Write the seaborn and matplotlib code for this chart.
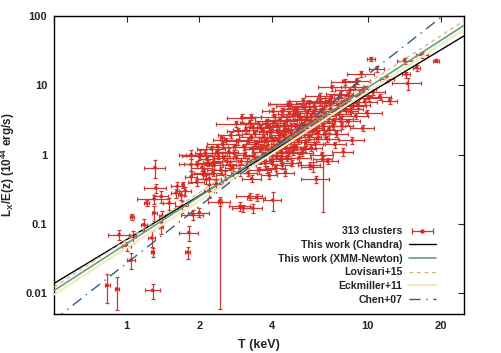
import numpy as np
import pandas as pd
import matplotlib
matplotlib.use("Agg")
import matplotlib.pyplot as plt
import seaborn as sns
from matplotlib.lines import Line2D
from matplotlib.legend_handler import HandlerLine2D
from matplotlib.ticker import FixedLocator, FixedFormatter, NullLocator

# cluster temperatures (keV), luminosities (1e44 erg/s), T error (keV), fractional L error
T = [0.83, 0.91, 1.28, 0.93, 1.06, 1.04, 1.05, 1.18, 1.27, 1.28, 1.31, 1.32, 1.21, 1.30, 1.39,
     1.40, 1.30, 1.39, 1.69, 1.71, 1.81, 1.79, 1.85, 1.85, 1.85, 1.88, 2.00, 2.01, 2.48, 1.60,
     1.50, 1.00, 1.68, 2.10, 2.15, 2.20, 2.25, 2.30, 2.35, 2.40, 2.45, 2.50, 2.55, 2.60, 2.65,
     2.70, 2.75, 2.80, 2.85, 2.90, 2.95, 2.43, 2.20, 3.03, 3.46, 3.23, 4.03, 3.24, 3.33, 3.00,
     2.85, 3.29, 4.73, 4.04, 2.36, 2.00, 2.28, 1.95, 2.07, 2.14, 2.95, 3.33,
     3.10, 3.15, 3.20, 3.30, 3.35, 3.40, 3.45, 3.50, 3.55, 3.60, 3.65, 3.70, 3.75, 3.80, 3.85,
     3.90, 3.95, 4.00, 4.05, 4.10, 4.15, 4.20, 4.25, 4.30, 4.35, 4.40, 4.45, 4.50, 4.55, 4.60,
     4.65, 4.70, 4.75, 4.80, 4.85, 4.90, 4.95, 4.65,
     5.00, 5.10, 5.15, 5.20, 5.30, 5.35, 5.40, 5.50, 5.55, 5.60, 5.70, 5.75, 5.80, 5.90, 6.00,
     6.05, 6.10, 6.15, 6.20, 6.30, 6.40, 6.45, 6.50, 6.60, 6.70, 6.75, 6.80, 6.90, 7.00, 7.06,
     7.10, 7.20, 7.30, 7.40, 7.50, 7.60, 7.70, 7.80, 7.90, 8.00, 5.90,
     8.10, 8.20, 8.30, 8.40, 8.60, 8.70, 8.90, 9.00, 9.20, 9.40, 9.50, 9.70, 9.90, 10.3, 10.5,
     10.9, 11.2, 12.0, 12.3, 14.2, 14.4, 14.6, 15.9, 16.8, 19.2,
     3.05, 3.12, 3.18, 3.28, 3.38, 3.42, 3.52, 3.58, 3.62, 3.68, 3.72, 3.78, 3.82, 3.88, 3.92,
     3.98, 4.02, 4.08, 4.12, 4.18, 4.22, 4.28, 4.32, 4.38, 4.42, 4.48, 4.52, 4.58, 4.62, 4.68,
     4.72, 4.78, 4.82, 4.88, 4.92, 4.98, 5.05, 5.12, 5.18, 5.25, 5.32, 5.38, 5.45, 5.52, 5.58,
     5.65, 5.72, 5.82, 5.88, 5.95, 6.08, 6.18, 6.25, 6.35, 6.42, 6.55, 6.65, 6.85, 6.95, 7.15,
     7.35, 7.55, 7.75, 7.95, 8.25, 8.50, 8.80, 9.10, 9.60, 10.1, 2.05, 2.12, 2.18, 2.28, 2.38,
     2.52, 2.58, 2.68, 2.78, 2.88, 2.98, 1.95, 1.75, 1.62]
L = [0.013, 0.0115, 0.011, 0.070, 0.066, 0.030, 0.127, 0.098, 0.063, 0.039, 0.65, 0.33, 0.20, 0.23, 0.25,
     0.13, 0.145, 0.09, 0.18, 0.37, 0.075, 0.039, 1.00, 0.72, 0.48, 0.136, 0.146, 1.00, 1.76, 0.28,
     0.20, 0.048, 0.26, 0.55, 0.85, 0.45, 1.20, 0.70, 0.38, 0.95, 0.60, 1.40, 0.50, 0.80, 1.10,
     1.90, 0.65, 1.30, 0.90, 2.20, 0.55, 0.21, 0.30, 0.17, 0.24, 0.25, 0.22, 2.90, 2.50, 3.40,
     2.80, 3.50, 5.30, 4.20, 1.07, 0.94, 0.77, 0.72, 0.52, 0.44, 0.18, 0.17,
     1.00, 0.70, 1.60, 0.45, 1.20, 2.00, 0.85, 1.50, 0.60, 2.40, 1.10, 1.80, 0.75, 3.00, 1.30,
     0.50, 2.10, 1.00, 1.60, 3.50, 0.65, 2.60, 1.20, 1.90, 0.85, 4.20, 1.40, 2.30, 0.55, 3.00,
     1.70, 1.05, 5.10, 2.00, 0.75, 3.60, 1.30, 5.30,
     2.60, 4.50, 1.60, 0.90, 3.20, 2.10, 6.00, 1.20, 2.80, 4.00, 1.80, 0.70, 3.50, 2.40, 5.00,
     1.40, 0.44, 3.00, 2.00, 7.00, 4.20, 1.00, 2.60, 3.60, 5.60, 1.70, 0.80, 2.30, 4.60, 6.60,
     9.30, 3.10, 1.40, 2.00, 5.20, 3.80, 7.50, 2.60, 1.10, 11.3, 0.67,
     4.30, 6.00, 3.00, 8.50, 1.60, 5.00, 3.60, 11.7, 7.00, 14.7, 2.40, 5.80, 4.00, 24.0, 8.00,
     17.4, 6.80, 12.5, 6.00, 22.7, 14.3, 10.6, 18.0, 27.6, 22.7,
     1.30, 2.30, 0.55, 1.80, 0.95, 1.40, 2.80, 0.80, 1.25, 2.20, 0.95, 1.55, 0.62, 2.50, 1.15,
     1.75, 0.80, 2.90, 1.35, 0.95, 2.10, 1.55, 3.20, 1.10, 0.70, 1.80, 2.70, 1.25, 0.90, 2.20,
     3.90, 1.50, 2.60, 1.10, 1.90, 4.20, 1.30, 2.30, 3.60, 1.90, 1.05, 2.70, 4.80, 1.50, 3.30,
     2.20, 5.50, 1.25, 2.90, 4.00, 2.30, 1.70, 3.60, 5.80, 2.90, 4.60, 2.00, 3.30, 6.00, 2.60,
     4.20, 6.50, 3.30, 5.50, 7.20, 4.50, 9.50, 5.20, 8.80, 6.50, 0.65, 1.05, 0.75, 0.55, 1.30,
     0.90, 1.60, 0.70, 1.05, 1.55, 0.80, 0.40, 0.30, 0.35]
T_ERR = [0.02, 0.02, 0.09, 0.09, 0.03, 0.04, 0.02, 0.03, 0.04, 0.02, 0.13, 0.14, 0.03, 0.20, 0.10,
         0.04, 0.03, 0.03, 0.10, 0.02, 0.16, 0.04, 0.20, 0.12, 0.10, 0.20, 0.20, 0.25, 0.05, 0.08,
         0.08, 0.04, 0.05, 0.20, 0.15, 0.25, 0.30, 0.20, 0.15, 0.25, 0.30, 0.35, 0.20, 0.30, 0.25,
         0.30, 0.20, 0.30, 0.35, 0.30, 0.25, 0.25, 0.10, 0.30, 0.30, 0.40, 0.35, 0.30, 0.25, 0.40,
         0.50, 0.30, 0.80, 0.40, 0.25, 0.30, 0.20, 0.30, 0.20, 0.20, 0.30, 0.30,
         0.30, 0.30, 0.35, 0.30, 0.30, 0.40, 0.30, 0.35, 0.40, 0.40, 0.35, 0.40, 0.30, 0.40, 0.45,
         0.30, 0.40, 0.40, 0.45, 0.50, 0.40, 0.45, 0.50, 0.40, 0.45, 0.50, 0.50, 0.45, 0.40, 0.50,
         0.50, 0.50, 0.60, 0.50, 0.45, 0.55, 0.50, 0.80,
         0.50, 0.60, 0.50, 0.60, 0.60, 0.60, 0.70, 0.60, 0.60, 0.60, 0.70, 0.60, 0.70, 0.70, 0.70,
         0.60, 0.80, 0.70, 0.70, 0.80, 0.80, 0.70, 0.70, 0.80, 0.80, 0.80, 0.70, 0.80, 0.90, 0.90,
         0.90, 0.90, 0.80, 0.90, 0.90, 0.90, 1.00, 0.90, 0.80, 1.00, 0.60,
         1.00, 1.00, 1.00, 1.10, 1.00, 1.10, 1.10, 1.20, 1.20, 1.20, 1.10, 1.20, 1.50, 0.40, 1.30,
         0.80, 1.30, 0.80, 0.90, 1.00, 0.60, 2.00, 0.50, 1.00, 0.60,
         0.30, 0.35, 0.30, 0.35, 0.35, 0.30, 0.40, 0.35, 0.40, 0.35, 0.40, 0.40, 0.35, 0.40, 0.40,
         0.45, 0.40, 0.45, 0.45, 0.40, 0.45, 0.50, 0.45, 0.45, 0.40, 0.50, 0.50, 0.50, 0.45, 0.50,
         0.50, 0.50, 0.50, 0.50, 0.50, 0.55, 0.50, 0.55, 0.60, 0.55, 0.60, 0.60, 0.60, 0.60, 0.60,
         0.60, 0.70, 0.60, 0.70, 0.70, 0.70, 0.70, 0.70, 0.80, 0.70, 0.80, 0.80, 0.80, 0.80, 0.90,
         0.90, 0.90, 0.90, 1.00, 1.00, 1.00, 1.10, 1.10, 1.20, 1.20, 0.20, 0.20, 0.25, 0.20, 0.25,
         0.25, 0.30, 0.25, 0.30, 0.30, 0.30, 0.15, 0.10, 0.10]
L_ERR = [0.45, 0.50, 0.25, 0.15, 0.20, 0.25, 0.10, 0.20, 0.25, 0.15, 0.30, 0.15, 0.10, 0.15, 0.20,
         0.20, 0.25, 0.20, 0.20, 0.10, 0.25, 0.20, 0.15, 0.20, 0.20, 0.15, 0.15, 0.15, 0.10, 0.15,
         0.20, 0.15, 0.15, 0.12, 0.10, 0.15, 0.12, 0.10, 0.15, 0.10, 0.12, 0.10, 0.15, 0.10, 0.12,
         0.10, 0.12, 0.10, 0.10, 0.10, 0.12, 0.15, 0.20, 0.12, 0.12, 0.10, 0.30, 0.10, 0.10, 0.12,
         0.10, 0.10, 0.10, 0.10, 0.10, 0.10, 0.12, 0.12, 0.15, 0.15, 0.15, 0.15,
         0.10, 0.12, 0.10, 0.12, 0.10, 0.10, 0.10, 0.10, 0.12, 0.10, 0.10, 0.10, 0.10, 0.10, 0.10,
         0.12, 0.10, 0.10, 0.10, 0.10, 0.12, 0.10, 0.10, 0.10, 0.10, 0.10, 0.10, 0.10, 0.12, 0.10,
         0.10, 0.10, 0.10, 0.10, 0.10, 0.10, 0.10, 0.10,
         0.10, 0.10, 0.10, 0.12, 0.10, 0.10, 0.10, 0.10, 0.10, 0.10, 0.10, 0.12, 0.10, 0.10, 0.10,
         0.10, 0.12, 0.10, 0.10, 0.10, 0.10, 0.10, 0.10, 0.10, 0.10, 0.10, 0.10, 0.10, 0.10, 0.10,
         0.10, 0.10, 0.10, 0.10, 0.10, 0.10, 0.10, 0.10, 0.12, 0.10, 0.15,
         0.10, 0.10, 0.10, 0.10, 0.12, 0.10, 0.10, 0.10, 0.10, 0.10, 0.10, 0.10, 0.10, 0.08, 0.10,
         0.10, 0.10, 0.10, 0.10, 0.10, 0.10, 0.20, 0.10, 0.10, 0.06,
         0.10, 0.10, 0.12, 0.10, 0.10, 0.10, 0.10, 0.10, 0.10, 0.10, 0.10, 0.10, 0.12, 0.10, 0.10,
         0.10, 0.10, 0.10, 0.10, 0.10, 0.10, 0.10, 0.10, 0.10, 0.12, 0.10, 0.10, 0.10, 0.10, 0.10,
         0.10, 0.10, 0.10, 0.10, 0.10, 0.10, 0.10, 0.10, 0.10, 0.10, 0.10, 0.10, 0.10, 0.10, 0.10,
         0.10, 0.10, 0.10, 0.10, 0.10, 0.10, 0.10, 0.10, 0.10, 0.10, 0.10, 0.10, 0.10, 0.10, 0.10,
         0.10, 0.10, 0.10, 0.10, 0.10, 0.10, 0.10, 0.10, 0.10, 0.10, 0.12, 0.10, 0.10, 0.12, 0.10,
         0.10, 0.10, 0.10, 0.10, 0.10, 0.10, 0.12, 0.15, 0.15]

# two clusters with very long lower L error bars
T_LONG = [2.43, 6.5]
L_LONG = [0.21, 0.85]
L_LONG_LO = [0.204, 0.70]
L_LONG_HI = [0.02, 0.10]
T_LONG_ERR = [0.05, 0.6]

# scaling relations: L = norm * (T/5)^slope
REL_NAMES = ["This work (Chandra)", "This work (XMM-Newton)", "Lovisari+15", "Eckmiller+11", "Chen+07"]
REL_NORM = [1.75, 1.95, 2.24, 1.70, 2.17]
REL_SLOPE = [2.10, 2.25, 2.26, 2.25, 2.72]
REL_COLORS = ["black", "#5f9e8a", "#d9b36a", "#f2ecbc", "#2b6185"]
REL_STYLES = ["-", "-", (0, (3, 3)), "-", (0, (8, 4, 1, 4))]
REL_WIDTHS = [1.0, 1.2, 0.9, 1.6, 1.0]

sns.set_theme(style="white")
plt.rcParams['font.family'] = ['Liberation Sans', 'DejaVu Sans']
plt.rcParams['mathtext.fontset'] = 'custom'
plt.rcParams['mathtext.rm'] = 'Liberation Sans:bold'
plt.rcParams['mathtext.it'] = 'Liberation Sans:bold'

fig = plt.figure(figsize=(5.01, 3.53), dpi=100)
ax = fig.add_axes([0.108, 0.110, 0.818, 0.845])
ax.set_xscale("log")
ax.set_yscale("log")

T_all = np.array(T + T_LONG)
L_all = np.array(L + L_LONG)
l_sym = list(np.array(L) * np.array(L_ERR))
yerr = np.array([l_sym + L_LONG_LO, l_sym + L_LONG_HI])
xerr = np.array(T_ERR + T_LONG_ERR)

ecol = "#c93a34"
ax.errorbar(T_all, L_all, xerr=xerr, yerr=yerr, fmt="none", ecolor=ecol,
            elinewidth=0.9, capsize=1.5, capthick=0.9, zorder=2)
pts = pd.DataFrame({"T": T_all, "L": L_all})
sns.scatterplot(data=pts, x="T", y="L", ax=ax, color="#e3261c", s=7, edgecolor="none", zorder=3)

# relation lines
T_grid = np.logspace(np.log10(0.5), np.log10(25), 100)
handles = []
for name, n, s, c, ls, lw in zip(REL_NAMES, REL_NORM, REL_SLOPE, REL_COLORS, REL_STYLES, REL_WIDTHS):
    df = pd.DataFrame({"T": T_grid, "L": n * (T_grid / 5.0) ** s})
    sns.lineplot(data=df, x="T", y="L", ax=ax, color=c, linestyle=ls, linewidth=lw, zorder=4)
    handles.append(ax.lines[-1])

ax.set_xlim(0.5, 25)
ax.set_ylim(0.005, 100)

ax.xaxis.set_major_locator(FixedLocator([1, 2, 4, 10, 20]))
ax.xaxis.set_major_formatter(FixedFormatter(["1", "2", "4", "10", "20"]))
ax.xaxis.set_minor_locator(NullLocator())
ax.yaxis.set_major_locator(FixedLocator([0.01, 0.1, 1, 10, 100]))
ax.yaxis.set_major_formatter(FixedFormatter(["0.01", "0.1", "1", "10", "100"]))
ax.yaxis.set_minor_locator(NullLocator())
ax.tick_params(which="both", direction="in", top=True, right=True, length=4, width=0.8,
               labelsize=8, pad=5)
for lab in ax.get_xticklabels() + ax.get_yticklabels():
    lab.set_fontweight("bold")
for sp in ax.spines.values():
    sp.set_linewidth(1.0)
    sp.set_color("black")

ax.set_xlabel("T (keV)", fontsize=9, fontweight="bold", labelpad=6)
ax.set_ylabel(r"L$_X$/E(z) (10$^{44}$ erg/s)", fontsize=8.5, fontweight="bold", labelpad=6)

# legend sample for the clusters: bar with end caps and a dot in the middle
cap_line = Line2D([], [], color=ecol, linewidth=0.9, marker="|", markersize=4,
                  markeredgewidth=0.9)
dot_line = Line2D([], [], linestyle="none", marker="o", markersize=2.2,
                  markerfacecolor="#e3261c", markeredgecolor="#e3261c")
leg = ax.legend([(cap_line, dot_line)] + handles, ["313 clusters"] + REL_NAMES,
                handler_map={cap_line: HandlerLine2D(numpoints=2)},
                loc="lower right", bbox_to_anchor=(0.955, 0.0), frameon=False,
                markerfirst=False, fontsize=7.6, handlelength=2.6, labelspacing=0.35,
                handletextpad=0.6)
for t in leg.get_texts():
    t.set_fontweight("bold")

fig.savefig("out.png", dpi=100, facecolor="white")
